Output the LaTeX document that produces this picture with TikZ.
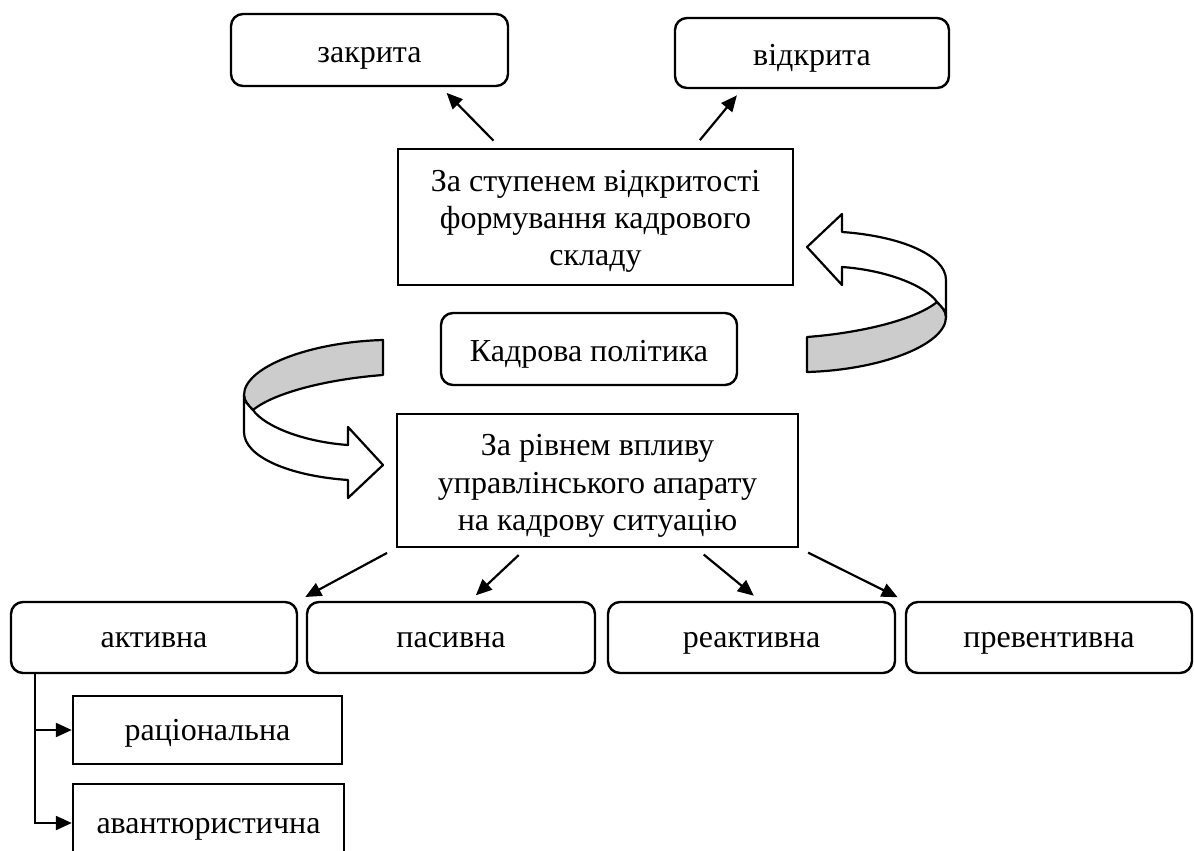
\documentclass[tikz,border=0pt]{standalone}
\usepackage{fontspec}
\setmainfont{Liberation Serif}
\usetikzlibrary{arrows.meta,calc}

\begin{document}
\begin{tikzpicture}[x=0.5pt,y=-0.5pt,
  every node/.style={font=\fontsize{16}{18.6}\selectfont,align=center,inner sep=0pt},
  oneline/.style={text height=14pt,text depth=4pt},
  roundbox/.style={draw,line width=1.2pt,rounded corners=6pt,oneline},
  sharpbox/.style={draw,line width=1.2pt},
  arr/.style={line width=1.1pt,-{Triangle[length=8pt,width=7pt]},shorten <=5pt,shorten >=4pt},
  turn/.style={draw,line width=1.1pt,line join=round}]
  \useasboundingbox (0,0) rectangle (1194,851);

  \node[roundbox,text height=16.5pt,minimum width=138.5pt,minimum height=36pt] (zakryta) at (369.5,50) {закрита};
  \node[roundbox,text height=16.5pt,minimum width=137pt,minimum height=35pt] (vidkryta) at (812,53) {відкрита};
  \node[sharpbox,minimum width=197.5pt,minimum height=68pt] (stupin) at (595.5,217) {\rule{0pt}{15pt}За ступенем відкритості\\формування кадрового\\складу};
  \node[roundbox,text height=16.5pt,minimum width=148pt,minimum height=36pt] (polityka) at (589,349) {Кадрова політика};
  \node[sharpbox,minimum width=200.5pt,minimum height=66.5pt] (vplyv) at (597.5,480.5) {\rule{0pt}{16pt}За рівнем впливу\\управлінського апарату\\на кадрову ситуацію};

  \node[roundbox,minimum width=143pt,minimum height=35.5pt] (aktyvna) at (154,637.5) {активна};
  \node[roundbox,minimum width=144pt,minimum height=35.5pt] (pasyvna) at (451,637.5) {пасивна};
  \node[roundbox,minimum width=143.5pt,minimum height=35.5pt] (reaktyvna) at (751.5,637.5) {реактивна};
  \node[roundbox,minimum width=143pt,minimum height=35.5pt] (preventyvna) at (1049,637.5) {превентивна};

  \node[sharpbox,oneline,minimum width=134.5pt,minimum height=34pt] (ratsionalna) at (207.5,730) {раціональна};
  \node[sharpbox,oneline,minimum width=135.5pt,minimum height=39pt] (avantyurna) at (208.5,823) {авантюристична};

  \draw[arr] ($(stupin.north)+(-95,0)$) -- ($(zakryta.south)+(71.5,0)$);
  \draw[arr] ($(stupin.north)+(98,0)$) -- ($(vidkryta.south)+(-70,0)$);

  \draw[arr] (vplyv.south west) -- (aktyvna.north east);
  \draw[arr] ($(vplyv.south)+(-71.5,0)$) -- ($(pasyvna.north)+(19,0)$);
  \draw[arr] ($(vplyv.south)+(98.5,0)$) -- ($(reaktyvna.north)+(8.5,0)$);
  \draw[arr] (vplyv.south east) -- (preventyvna.north west);

  \draw[arr,shorten <=0pt,shorten >=0pt] ([xshift=12.5pt]aktyvna.south west) |- (ratsionalna.west);
  \draw[arr,shorten <=0pt,shorten >=0pt] ([xshift=12.5pt]aktyvna.south west) |- (avantyurna.west);

  \draw[turn,fill=gray!40] (807,337) .. controls (860,333) and (915,320) .. (937,302)
    .. controls (942,307) and (946,311) .. (946,317)
    .. controls (946,345) and (880,370) .. (807,372) -- cycle;
  \draw[turn,fill=white] (807,247) -- (842,214) -- (842,232)
    .. controls (900,236) and (946,255) .. (946,280) -- (946,317)
    .. controls (946,311) and (942,307) .. (937,302)
    .. controls (925,285) and (885,270) .. (842,267) -- (842,285) -- cycle;

  \draw[turn,fill=gray!40] (383,375) .. controls (330,379) and (275,392) .. (253,410)
    .. controls (248,405) and (244,401) .. (244,395)
    .. controls (244,367) and (310,342) .. (383,340) -- cycle;
  \draw[turn,fill=white] (383,465) -- (348,498) -- (348,480)
    .. controls (290,476) and (244,457) .. (244,432) -- (244,395)
    .. controls (244,401) and (248,405) .. (253,410)
    .. controls (265,427) and (305,442) .. (348,445) -- (348,427) -- cycle;
\end{tikzpicture}
\end{document}
